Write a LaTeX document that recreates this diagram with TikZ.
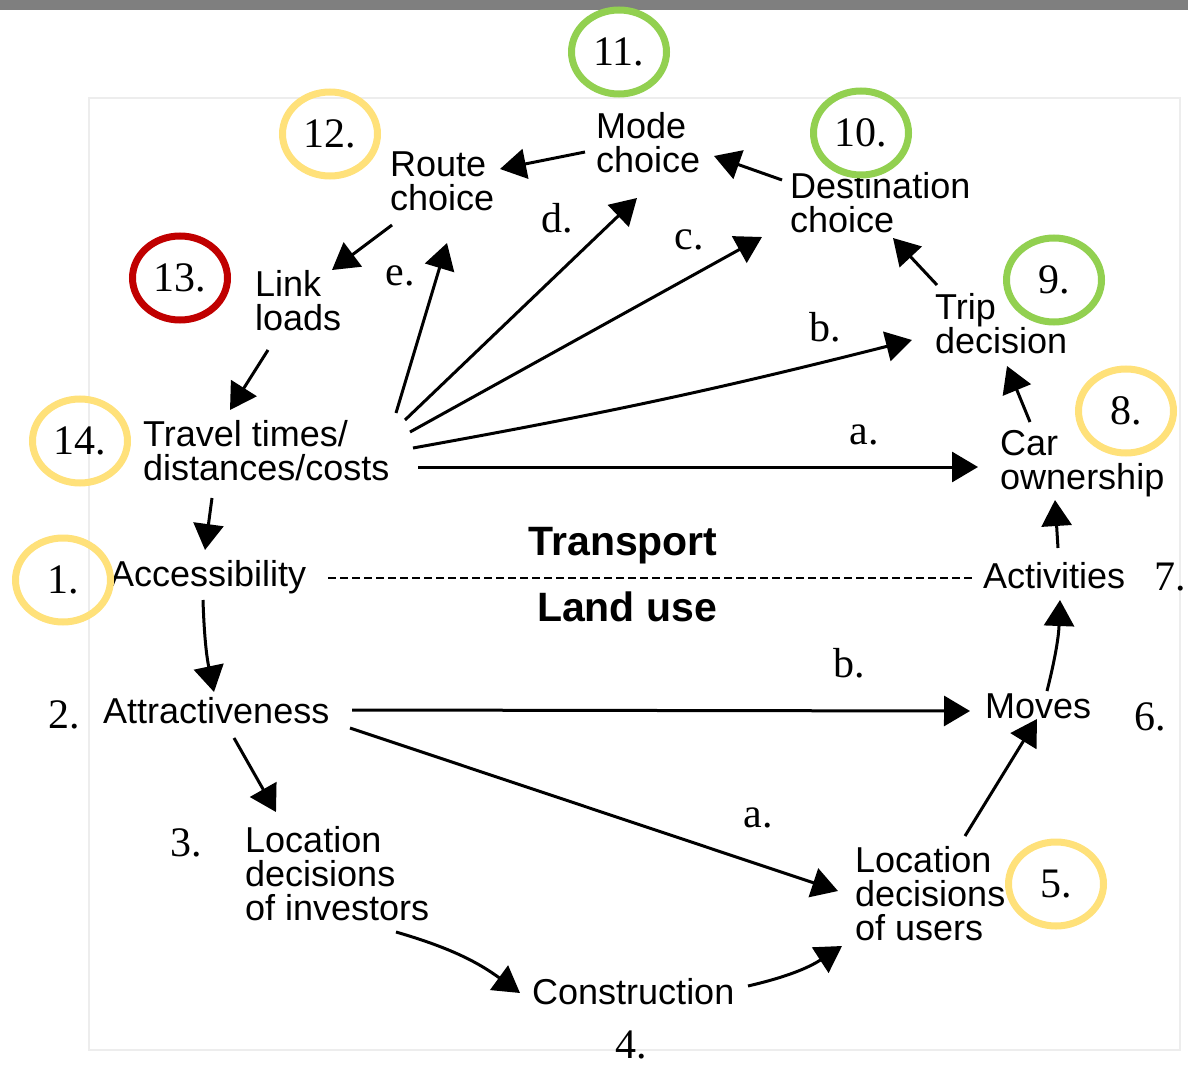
\documentclass[tikz,border=0pt]{standalone}
\usepackage{fontspec}
\setsansfont{Liberation Sans}
\setmainfont{Liberation Serif}
\usetikzlibrary{arrows.meta,positioning,calc,shapes.geometric}
\definecolor{ringgold}{HTML}{FFE17A}
\definecolor{ringgreen}{HTML}{92D050}
\definecolor{ringred}{HTML}{C00000}
\definecolor{topbar}{HTML}{7F7F7F}
\tikzset{
  txt/.style={font=\sffamily\fontsize{36}{34}\selectfont, inner sep=0pt, anchor=north west, align=left},
  hdr/.style={font=\sffamily\bfseries\fontsize{41}{41}\selectfont, inner sep=0pt},
  numlbl/.style={font=\rmfamily\fontsize{42}{42}\selectfont, inner sep=0pt},
  numring/.style={numlbl, ellipse, draw=#1, line width=7pt, minimum width=95pt, minimum height=84pt},
  conn/.style={line width=3pt, -{Triangle[length=26pt,width=30pt]}},
}

\begin{document}
\begin{tikzpicture}[x=1pt,y=-1pt]
  \useasboundingbox (0,0) rectangle (1188,1067);

  % top bar and faint frame
  \fill[topbar] (0,0) rectangle (1188,10);
  \draw[black!7, line width=1.5pt] (89,98) rectangle (1180,1050);

  % transport side
  \node[txt] (route) at (390,152) {Route\\choice};
  \node[txt] (mode) at (596,112) {Mode\\choice};
  \node[txt] (dest) at (790,172) {Destination\\choice};
  \node[txt] (link) at (255,270) {Link\\loads};
  \node[txt] (trip) at (935,293) {Trip\\decision};
  \node[txt] (car) at (1000,430) {Car\\ownership};
  \node[txt] (travel) at (143,420) {Travel times/\\distances/costs};

  % land use side
  \node[txt] (access) at (110,560) {Accessibility};
  \node[txt] (activ) at (983,562) {Activities};
  \node[txt] (attract) at (103,697) {Attractiveness};
  \node[txt] (moves) at (985,694) {Moves};
  \node[txt] (locinv) at (245,826) {Location\\decisions\\of investors};
  \node[txt] (locuse) at (855,846) {Location\\decisions\\of users};
  \node[txt] (constr) at (532,978) {Construction};

  \node[hdr] (transport) at (623,546) {Transport};
  \node[hdr] (landuse) at (627,607) {Land use};

  % step numbers and arrow letters
  \foreach \nm/\t/\x/\y in {s2/2./64/715, s3/3./186/843, s4/4./631/1045,
      s6/6./1150/717, s7/7./1170/577, ld/d./557/218, le/e./400/276,
      lc/c./689/240, lb/b./825/327, la/a./864/435, mb/b./849/663, ma/a./758/818}
    \node[numlbl] (\nm) at (\x,\y) {\t};

  % transport loop
  \draw[conn] ($(mode.north west)+(-11,40)$) -- ($(route.north west)+(110,17)$);
  \draw[conn] ($(dest.north west)+(-8,8)$) -- ($(mode.north west)+(118,44)$);
  \draw[conn] ($(route.north west)+(2,73)$) -- ($(link.north west)+(77,0)$);
  \draw[conn] ($(link.north west)+(13,80)$) -- ($(travel.north west)+(87,-10)$);
  \draw[conn] ($(travel.north west)+(253,-7)$) -- ($(route.north west)+(57,91)$);
  \draw[conn] ($(travel.north west)+(262,0)$) -- ($(mode.north west)+(41,86)$);
  \draw[conn] ($(travel.north west)+(267,12)$) -- ($(dest.north west)+(-28,65)$);
  \draw[conn] ($(travel.north west)+(270,28)$) to[bend right=2] ($(trip.north west)+(-23,47)$);
  \draw[conn] ($(travel.north west)+(275,47)$) -- ($(car.north west)+(-22,37)$);
  \draw[conn] ($(trip.north west)+(2,-8)$) -- ($(dest.north west)+(103,66)$);
  \draw[conn] ($(car.north west)+(30,-8)$) -- ($(trip.north west)+(72,73)$);
  \draw[conn] ($(activ.north west)+(75,-14)$) -- ($(car.north west)+(55,70)$);

  % land use loop
  \draw[conn] ($(travel.north west)+(69,78)$) -- ($(access.north west)+(95,-10)$);
  \draw[conn] ($(access.north west)+(93,40)$) to[bend right=5] ($(attract.north west)+(111,-5)$);
  \draw[conn] ($(attract.north west)+(131,41)$) -- ($(locinv.north west)+(31,-14)$);
  \draw[conn] ($(attract.north west)+(249,13)$) -- ($(moves.north west)+(-15,17)$);
  \draw[conn] ($(attract.north west)+(247,31)$) -- ($(locuse.north west)+(-17,45)$);
  \draw[conn] ($(locinv.north west)+(151,106)$) to[bend left=10] ($(constr.north west)+(-12,15)$);
  \draw[conn] ($(constr.north west)+(216,8)$) to[bend right=10] ($(locuse.north west)+(-13,100)$);
  \draw[conn] ($(locuse.north west)+(110,-10)$) -- ($(moves.north west)+(52,25)$);
  \draw[conn] ($(moves.north west)+(62,-3)$) to[bend right=6] ($(activ.north west)+(77,38)$);

  % border between transport and land use
  \draw[line width=2pt, dash pattern=on 8pt off 4pt]
    ($(access.north west)+(218,18)$) -- ($(activ.north west)+(-8,16)$);

  % highlighted numbers
  \foreach \k/\x/\y/\c in {11/619/52/ringgreen, 12/330/134/ringgold,
      13/180/278/ringred, 14/80/441/ringgold, 1/63/580/ringgold,
      10/861/133/ringgreen, 9/1054/280/ringgreen, 8/1126/411/ringgold,
      5/1056/884/ringgold}
    \node[numring=\c] (n\k) at (\x,\y) {\k.};
\end{tikzpicture}
\end{document}
